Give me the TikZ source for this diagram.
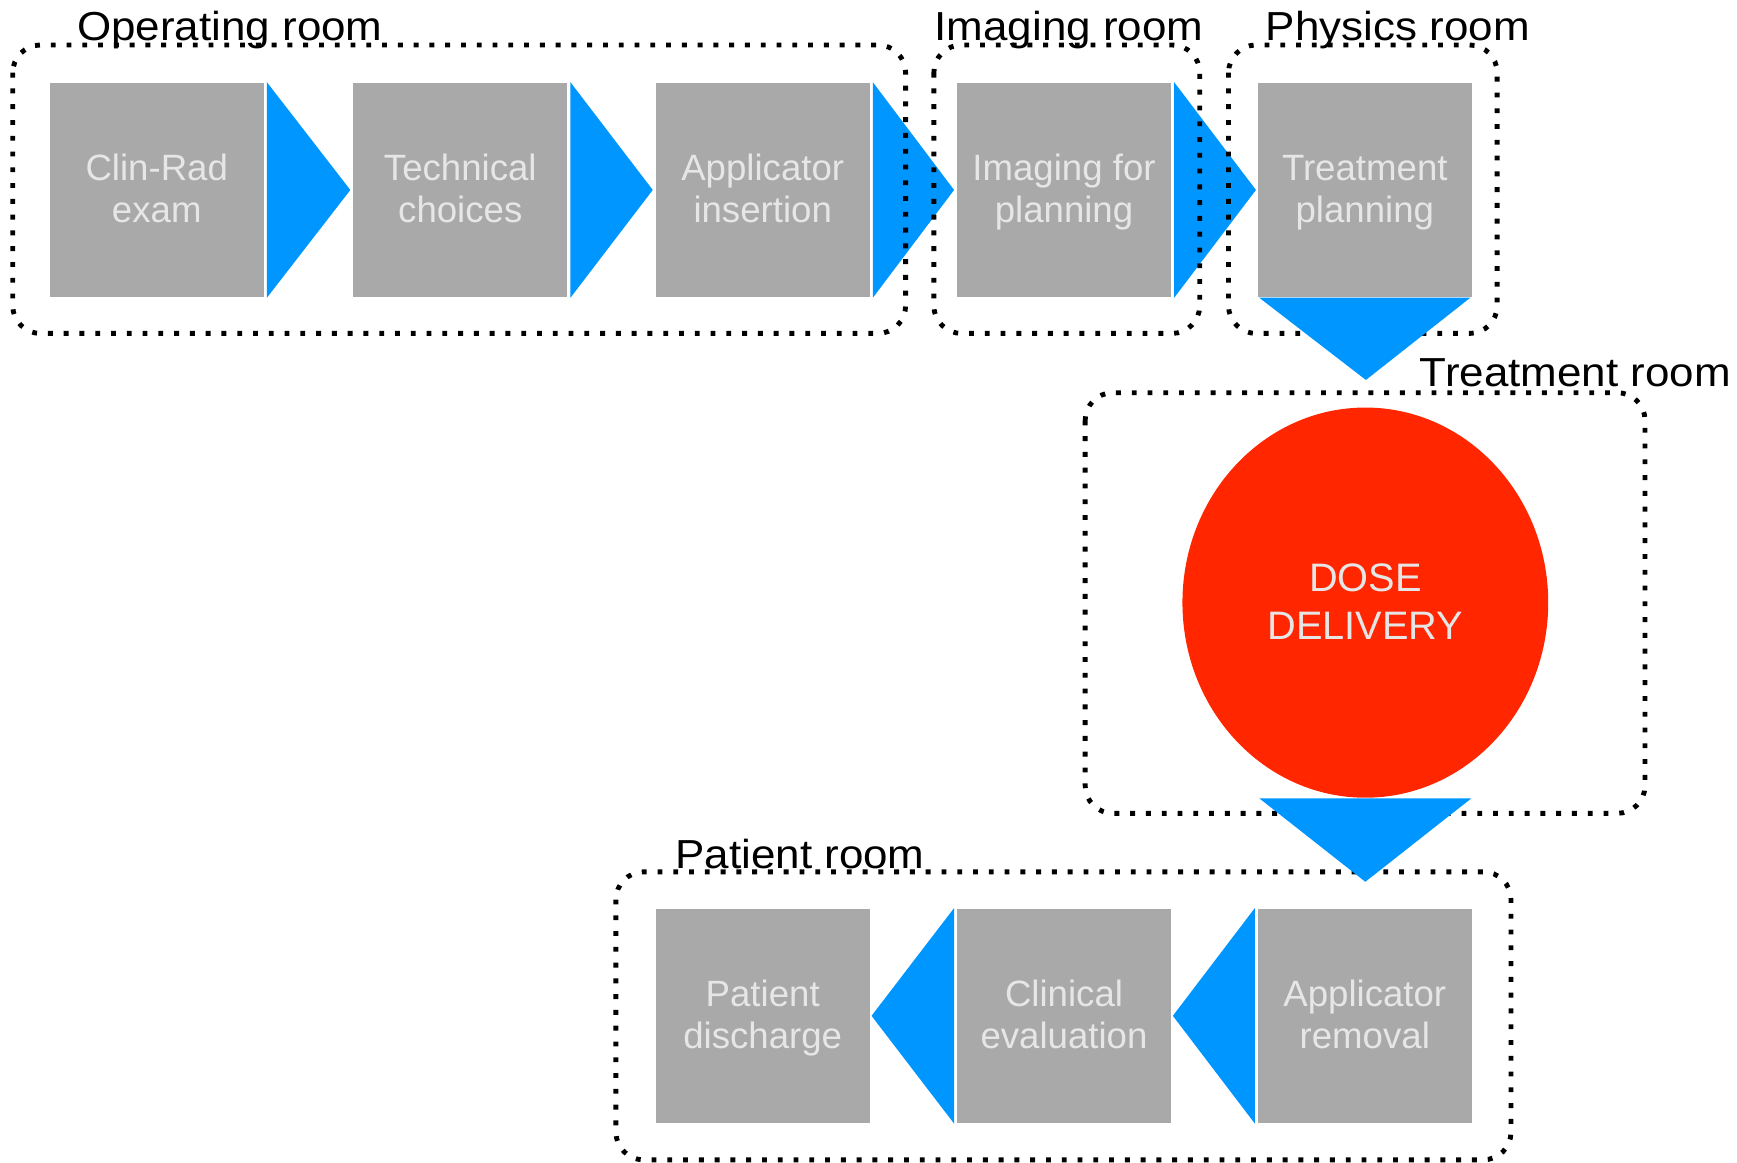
\documentclass[tikz,border=0pt]{standalone}
\usepackage{fontspec}
\setmainfont{Liberation Sans}
\newfontfamily\roomfont[FakeStretch=1.085]{Liberation Sans}
\usetikzlibrary{shapes.geometric}
\definecolor{boxgray}{RGB}{169,169,169}
\definecolor{arrowblue}{RGB}{0,150,255}
\definecolor{dosered}{RGB}{255,38,0}
\definecolor{boxtext}{RGB}{230,230,230}
\newcommand{\twolines}[3][9.1pt]{\rule{0pt}{#1}#2\\#3\rule[-3.2pt]{0pt}{3.2pt}}
\begin{document}
\begin{tikzpicture}[x=0.01cm,y=-0.01cm,
  stepbox/.style={fill=boxgray, minimum width=1.93cm, minimum height=1.93cm, inner sep=0pt,
    align=center, text=boxtext, font=\fontsize{9.4pt}{10.7pt}\selectfont},
  room/.style={draw=black, line width=1.25pt, dash pattern=on 1.25pt off 2.8pt, rounded corners=2.5mm},
  roomlabel/.style={anchor=base west, inner sep=0pt, text=black,
    font=\roomfont\fontsize{10.4pt}{12pt}\selectfont},
  arrowfill/.style={fill=arrowblue}]
\useasboundingbox (0,0) rectangle (1568,1049);

% process steps
\node[stepbox] (clin)   at (141.5,171.5) {\twolines{Clin-Rad}{exam}};
\node[stepbox] (tech)   at (415.5,171.5) {\twolines{Technical}{choices}};
\node[stepbox] (appins) at (688.5,171.5) {\twolines{Applicator}{insertion}};
\node[stepbox] (imgp)   at (960.5,171.5) {\twolines{Imaging for}{planning}};
\node[stepbox] (tplan)  at (1232,171.5)  {\twolines{Treatment}{planning}};
\node[ellipse, fill=dosered, minimum width=3.3cm, minimum height=3.52cm, inner sep=0pt,
      align=center, text=boxtext, font=\fontsize{10.2pt}{12.2pt}\selectfont]
      (dose) at (1232.5,544) {\twolines[9.7pt]{DOSE}{DELIVERY}};
\node[stepbox] (apprem)   at (1232,917)  {\twolines{Applicator}{removal}};
\node[stepbox] (clineval) at (960.5,917) {\twolines{Clinical}{evaluation}};
\node[stepbox] (disch)    at (688.5,917) {\twolines{Patient}{discharge}};

% right-pointing arrows
\fill[arrowfill] ([xshift=0.22mm]clin.north east) -- ([xshift=0.22mm]clin.south east) -- ([xshift=-0.2mm]tech.west) -- cycle;
\fill[arrowfill] ([xshift=0.22mm]tech.north east) -- ([xshift=0.22mm]tech.south east) -- ([xshift=-0.2mm]appins.west) -- cycle;
\fill[arrowfill] ([xshift=0.22mm]appins.north east) -- ([xshift=0.22mm]appins.south east) -- ([xshift=-0.2mm]imgp.west) -- cycle;
\fill[arrowfill] ([xshift=0.22mm]imgp.north east) -- ([xshift=0.22mm]imgp.south east) -- ([xshift=-0.1mm]tplan.west) -- cycle;

% left-pointing arrows
\fill[arrowfill] ([xshift=-0.2mm]clineval.north west) -- ([xshift=-0.2mm]clineval.south west) -- ([xshift=0.1mm]disch.east) -- cycle;
\fill[arrowfill] ([xshift=-0.2mm]apprem.north west) -- ([xshift=-0.2mm]apprem.south west) -- ([xshift=0.1mm]clineval.east) -- cycle;

% rooms
\draw[room] (11.5,40.6) rectangle (817.5,301);
\draw[room] (843,40.6) rectangle (1083,301);
\draw[room] (1109,40.6) rectangle (1351.5,301);
\draw[room] (979.6,354.5) rectangle (1485,734.2);
\draw[room] (556,787) rectangle (1364,1047);

% down arrows
\coordinate (tapex) at (1233,343);
\coordinate (dapex) at (1232.5,796);
\fill[arrowfill] ([xshift=0.2mm]tplan.south west) -- ([xshift=-0.2mm]tplan.south east) -- (tapex) -- cycle;
\fill[arrowfill] ([xshift=-0.955cm]dose.south) -- ([xshift=0.955cm]dose.south) -- (dapex) -- cycle;

% room labels
\node[roomlabel] (lop)  at (69,37)    {Operating room};
\node[roomlabel] (limg) at (843,37)   {Imaging room};
\node[roomlabel] (lphy) at (1142,37)  {Physics room};
\node[roomlabel] (ltre) at (1281,349) {Treatment room};
\node[roomlabel] (lpat) at (609,784)  {Patient room};
\end{tikzpicture}
\end{document}
